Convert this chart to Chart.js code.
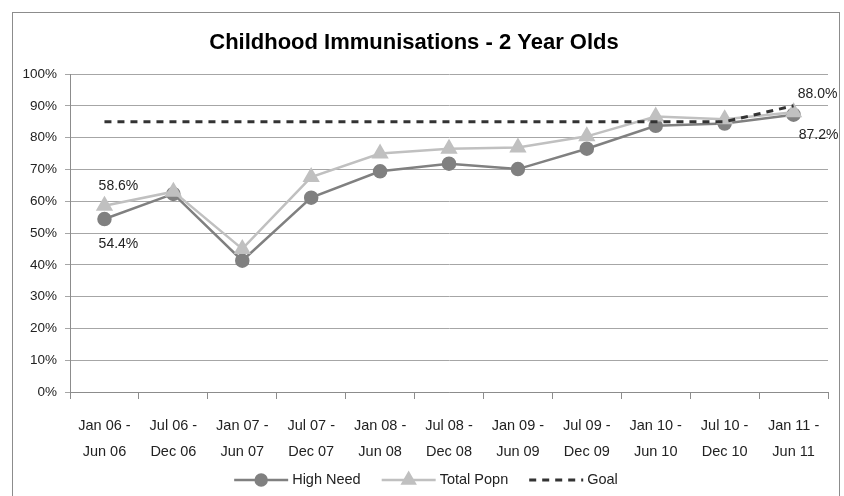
<!DOCTYPE html>
<html>
<head>
<meta charset="utf-8">
<script src="https://cdn.jsdelivr.net/npm/chart.js@4.4.1/dist/chart.umd.min.js"></script>
<style>
  html, body { margin: 0; padding: 0; background: #fff; }
  #wrap { width: 844px; height: 496px; }
</style>
</head>
<body>
<div id="wrap"><canvas id="immChart" width="844" height="496"></canvas></div>
<script>
  // period labels (two lines each)
  const periods = [
    ['Jan 06 -', 'Jun 06'], ['Jul 06 -', 'Dec 06'], ['Jan 07 -', 'Jun 07'],
    ['Jul 07 -', 'Dec 07'], ['Jan 08 -', 'Jun 08'], ['Jul 08 -', 'Dec 08'],
    ['Jan 09 -', 'Jun 09'], ['Jul 09 -', 'Dec 09'], ['Jan 10 -', 'Jun 10'],
    ['Jul 10 -', 'Dec 10'], ['Jan 11 -', 'Jun 11']
  ];
  // % immunised
  const highNeed = [54.4, 62.3, 41.3, 61.1, 69.4, 71.8, 70.1, 76.5, 83.7, 84.4, 87.2];
  const totalPopn = [58.6, 63.0, 45.0, 67.6, 75.0, 76.5, 76.9, 80.4, 86.6, 85.8, 88.0];
  const goal = [85, 85, 85, 85, 85, 85, 85, 85, 85, 85, 90];
  const yTicks = [0, 10, 20, 30, 40, 50, 60, 70, 80, 90, 100];

  const FONT = "'Liberation Sans', Arial, sans-serif";

  // outer frame of the chart
  const framePlugin = {
    id: 'frame',
    beforeDraw(chart) {
      const ctx = chart.ctx;
      ctx.save();
      ctx.strokeStyle = '#8c8c8c';
      ctx.lineWidth = 1;
      ctx.strokeRect(12.5, 12.5, 827, 500);
      ctx.restore();
    }
  };

  // first / last value labels like the excel original
  const valueLabels = {
    id: 'valueLabels',
    afterDatasetsDraw(chart) {
      const ctx = chart.ctx;
      ctx.save();
      ctx.font = '14px ' + FONT;
      ctx.fillStyle = '#222';
      ctx.textAlign = 'center';
      ctx.textBaseline = 'middle';
      const put = (dsIdx, i, dx, dy) => {
        const pt = chart.getDatasetMeta(dsIdx).data[i];
        const v = chart.data.datasets[dsIdx].data[i];
        ctx.fillText(v.toFixed(1) + '%', pt.x + dx, pt.y + dy);
      };
      const last = periods.length - 1;
      put(1, 0, 14, -20);
      put(0, 0, 14, 25);
      put(1, last, 24, -18);
      put(0, last, 25, 20);
      ctx.restore();
    }
  };

  // legend drawn under the axis: line sample with marker in the middle
  const bottomLegend = {
    id: 'bottomLegend',
    afterDraw(chart) {
      const ctx = chart.ctx;
      const sets = chart.data.datasets;
      const sampleW = 54, gapText = 4, gapItem = 21, y = 480;
      ctx.save();
      ctx.font = '14.5px ' + FONT;
      let total = 0;
      sets.forEach((ds, i) => {
        total += sampleW + gapText + ctx.measureText(ds.label).width;
        if (i < sets.length - 1) total += gapItem;
      });
      let x = 426 - total / 2;
      sets.forEach(ds => {
        ctx.strokeStyle = ds.borderColor;
        ctx.lineWidth = ds.borderWidth;
        ctx.setLineDash(ds.borderDash || []);
        ctx.beginPath();
        ctx.moveTo(x, y);
        ctx.lineTo(x + sampleW, y);
        ctx.stroke();
        ctx.setLineDash([]);
        if (ds.pointRadius > 0) {
          Chart.helpers.drawPoint(ctx, {
            pointStyle: ds.pointStyle, radius: ds.pointRadius - 0.5, borderWidth: 1
          }, x + sampleW / 2, y);
          ctx.fillStyle = ds.pointBackgroundColor;
          ctx.fill();
        }
        ctx.fillStyle = '#222';
        ctx.textBaseline = 'middle';
        ctx.textAlign = 'left';
        ctx.fillText(ds.label, x + sampleW + gapText, y);
        x += sampleW + gapText + ctx.measureText(ds.label).width + gapItem;
      });
      ctx.restore();
    }
  };

  new Chart(document.getElementById('immChart'), {
    type: 'line',
    data: {
      labels: periods,
      datasets: [
        {
          label: 'High Need',
          data: highNeed,
          borderColor: '#808080',
          backgroundColor: '#808080',
          pointBackgroundColor: '#808080',
          pointBorderColor: '#808080',
          borderWidth: 2.5,
          pointStyle: 'circle',
          pointRadius: 6,
          tension: 0,
          order: 3
        },
        {
          label: 'Total Popn',
          data: totalPopn,
          borderColor: '#c0c0c0',
          backgroundColor: '#c0c0c0',
          pointBackgroundColor: '#c0c0c0',
          pointBorderColor: '#c0c0c0',
          borderWidth: 2.5,
          pointStyle: 'triangle',
          pointRadius: 7.5,
          tension: 0,
          order: 2
        },
        {
          label: 'Goal',
          data: goal,
          borderColor: '#333333',
          backgroundColor: '#333333',
          borderWidth: 3,
          borderDash: [7, 6],
          pointRadius: 0,
          tension: 0,
          order: 1
        }
      ]
    },
    options: {
      responsive: false,
      animation: false,
      events: [],
      layout: { padding: { top: 0, right: 16, bottom: 0, left: 0 } },
      plugins: {
        legend: { display: false },
        tooltip: { enabled: false },
        title: {
          display: true,
          text: 'Childhood Immunisations - 2 Year Olds',
          color: '#000',
          font: { family: FONT, size: 22, weight: 'bold', lineHeight: 1.2 },
          padding: { top: 30, bottom: 17.6 }
        }
      },
      scales: {
        x: {
          offset: true,
          grid: {
            offset: true,
            drawOnChartArea: false,
            drawTicks: true,
            tickLength: 7,
            color: '#8c8c8c'
          },
          border: { color: '#8c8c8c' },
          ticks: {
            color: '#222',
            padding: 14,
            maxRotation: 0,
            autoSkip: false,
            font: { family: FONT, size: 14.5, lineHeight: 1.78 }
          },
          afterFit(scale) { scale.height = 104; }
        },
        y: {
          min: 0,
          max: 100,
          grid: { color: '#a6a6a6', tickLength: 5 },
          border: { color: '#8c8c8c' },
          afterBuildTicks(scale) { scale.ticks = yTicks.map(v => ({ value: v })); },
          ticks: {
            color: '#222',
            padding: 8,
            font: { family: FONT, size: 13.5 },
            callback: v => v + '%'
          },
          afterFit(scale) { scale.width = 70; }
        }
      }
    },
    plugins: [framePlugin, valueLabels, bottomLegend]
  });
</script>
</body>
</html>
